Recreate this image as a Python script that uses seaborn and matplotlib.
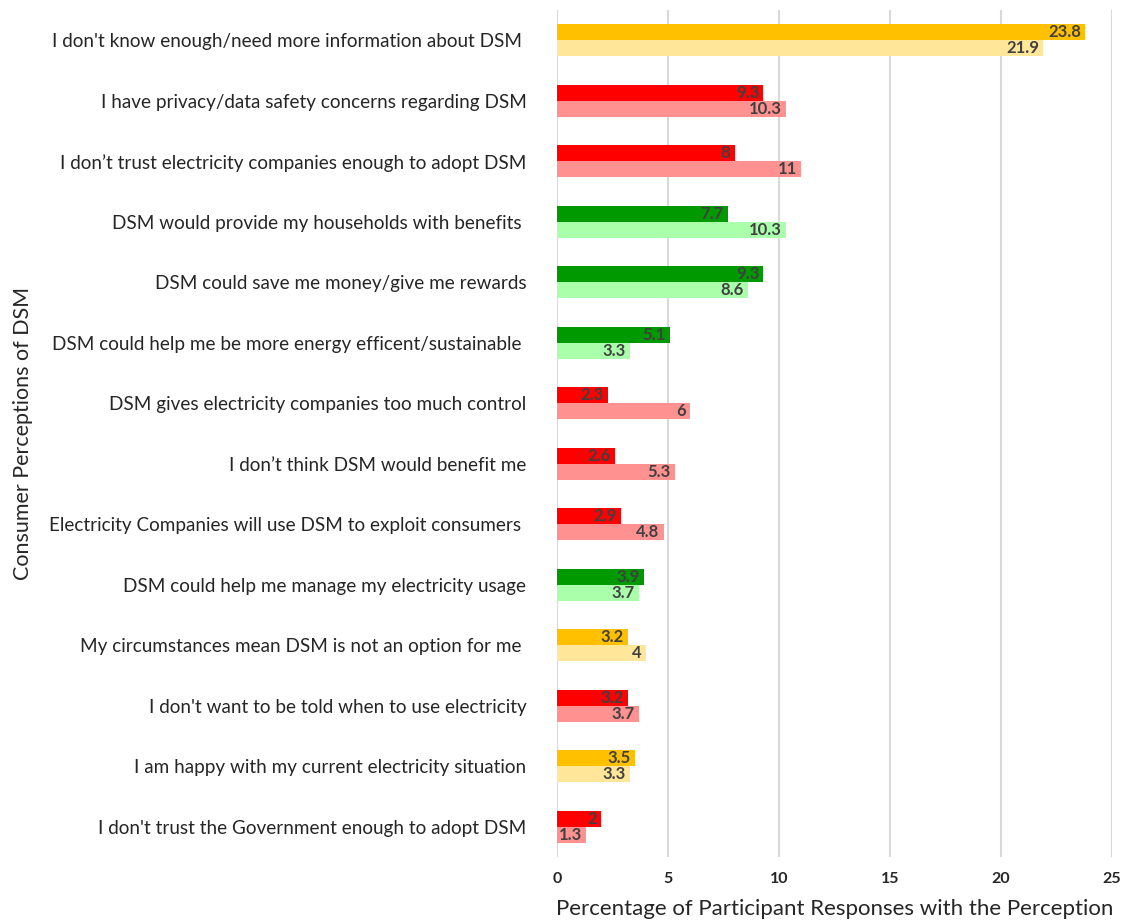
import matplotlib
matplotlib.use("Agg")
import matplotlib.pyplot as plt
import seaborn as sns
import pandas as pd

categories = [
    "I don't know enough/need more information about DSM ",
    "I have privacy/data safety concerns regarding DSM",
    "I don\u2019t trust electricity companies enough to adopt DSM",
    "DSM would provide my households with benefits ",
    "DSM could save me money/give me rewards",
    "DSM could help me be more energy efficent/sustainable ",
    "DSM gives electricity companies too much control",
    "I don\u2019t think DSM would benefit me",
    "Electricity Companies will use DSM to exploit consumers ",
    "DSM could help me manage my electricity usage",
    "My circumstances mean DSM is not an option for me ",
    "I don't want to be told when to use electricity",
    "I am happy with my current electricity situation",
    "I don't trust the Government enough to adopt DSM",
]
kinds = ["neutral", "negative", "negative", "positive", "positive", "positive",
         "negative", "negative", "negative", "positive", "neutral", "negative",
         "neutral", "negative"]
series_a = [23.8, 9.3, 8, 7.7, 9.3, 5.1, 2.3, 2.6, 2.9, 3.9, 3.2, 3.2, 3.5, 2]
series_b = [21.9, 10.3, 11, 10.3, 8.6, 3.3, 6, 5.3, 4.8, 3.7, 4, 3.7, 3.3, 1.3]
series_names = ["Series A", "Series B"]

dark = {"neutral": "#FFC000", "negative": "#FF0000", "positive": "#009A00"}
light = {"neutral": "#FFE699", "negative": "#FF9191", "positive": "#AAFFAA"}

df = pd.DataFrame({
    "category": categories * 2,
    "value": series_a + series_b,
    "series": [series_names[0]] * len(categories) + [series_names[1]] * len(categories),
})

sns.set_theme(style="white")
plt.rcParams["font.family"] = ["Lato", "DejaVu Sans"]

fig = plt.figure(figsize=(11.31, 9.22), dpi=100)
ax = fig.add_axes([557 / 1131, 65 / 922, (1112 - 557) / 1131, (912 - 65) / 922])

sns.barplot(data=df, y="category", x="value", hue="series", order=categories,
            hue_order=series_names, orient="h", width=0.53, ax=ax,
            palette=["#FFC000", "#FFE699"], legend=False, saturation=1)

palettes = [dark, light]
vals = [series_a, series_b]
for ci, cont in enumerate(ax.containers):
    for bi, patch in enumerate(cont.patches):
        patch.set_facecolor(palettes[ci][kinds[bi]])
        patch.set_edgecolor("none")
    texts = ax.bar_label(cont, labels=[f"{v:g}" for v in vals[ci]], padding=-3,
                         fontsize=12, fontweight="bold", color="#404040")
    for t in texts:
        t.set_ha("right")

ax.set_xlim(0, 25)
ax.set_xticks([0, 5, 10, 15, 20, 25])
ax.set_ylim(len(categories) - 0.5, -0.5)
ax.grid(axis="x", color="#D9D9D9", linewidth=1.5)
ax.set_axisbelow(True)
for s in ax.spines.values():
    s.set_visible(False)
ax.tick_params(axis="x", labelsize=11.5, pad=11, length=0)
for lab in ax.get_xticklabels():
    lab.set_fontweight("bold")
ax.tick_params(axis="y", labelsize=13.6, pad=22, length=0)
ax.set_xlabel("Percentage of Participant Responses with the Perception", fontsize=16, labelpad=9)
ax.set_ylabel("Consumer Perceptions of DSM", fontsize=15.5)
ax.yaxis.set_label_coords(-0.945, 0.5)

fig.savefig("out.png", dpi=100)
